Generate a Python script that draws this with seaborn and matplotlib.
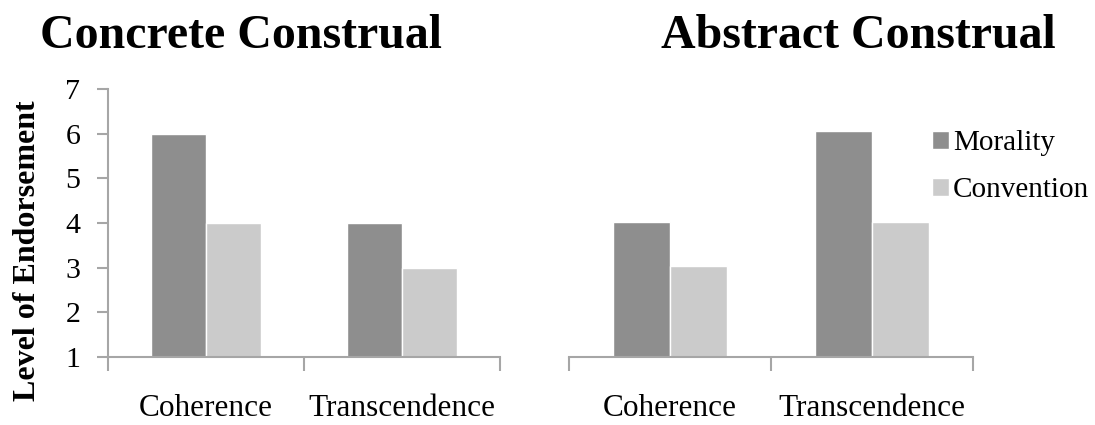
import matplotlib
matplotlib.use("Agg")
import matplotlib.pyplot as plt
import seaborn as sns
import pandas as pd

categories = ["Coherence", "Transcendence"]
series = ["Morality", "Convention"]
concrete_morality = [6.0, 4.0]
concrete_convention = [4.0, 3.0]
abstract_morality = [4.03, 6.06]
abstract_convention = [3.03, 4.03]
y_ticks = [1, 2, 3, 4, 5, 6, 7]

sns.set_theme(style="white")
plt.rcParams["font.family"] = ["Liberation Serif", "DejaVu Serif"]
plt.rcParams["text.color"] = "black"
plt.rcParams["xtick.labelcolor"] = "black"
plt.rcParams["ytick.labelcolor"] = "black"
plt.rcParams["axes.labelcolor"] = "black"

colors = {"Morality": "#8e8e8e", "Convention": "#cbcbcb"}
axis_color = "#a6a6a6"


def frame(morality, convention):
    rows = []
    for cat, m, c in zip(categories, morality, convention):
        rows.append({"category": cat, "series": "Morality", "value": m})
        rows.append({"category": cat, "series": "Convention", "value": c})
    return pd.DataFrame(rows)


fig = plt.figure(figsize=(10.95, 4.25), dpi=100)
ax1 = fig.add_axes([0.0986, 0.16, 0.358, 0.6306])
ax2 = fig.add_axes([0.5196, 0.16, 0.369, 0.6306])

panels = [
    (ax1, frame(concrete_morality, concrete_convention)),
    (ax2, frame(abstract_morality, abstract_convention)),
]

for ax, df in panels:
    sns.barplot(data=df, x="category", y="value", hue="series",
                order=categories, hue_order=series, palette=colors,
                width=0.565, saturation=1, ax=ax, legend=(ax is ax2))
    ax.set_ylim(1, 7)
    ax.set_xlim(-0.5, 1.5)
    ax.set_xlabel("")
    ax.set_ylabel("")
    for side in ["top", "right"]:
        ax.spines[side].set_visible(False)
    ax.spines["bottom"].set_color(axis_color)
    ax.spines["bottom"].set_linewidth(1.5)
    ax.set_xticks([-0.5, 0.5, 1.5])
    ax.set_xticklabels([])
    ax.set_xticks([0, 1], minor=True)
    ax.set_xticklabels(categories, minor=True, fontsize=22.5)
    ax.tick_params(axis="x", which="major", direction="out", length=10,
                   width=1.5, color=axis_color, bottom=True)
    ax.tick_params(axis="x", which="minor", length=0, pad=27, bottom=True)

fig.text(241 / 1095, 1 - 48 / 425, "Concrete Construal", fontsize=34.5,
         fontweight="bold", ha="center", va="baseline")
fig.text(858 / 1095, 1 - 48 / 425, "Abstract Construal", fontsize=34.5,
         fontweight="bold", ha="center", va="baseline")

ax1.spines["left"].set_color(axis_color)
ax1.spines["left"].set_linewidth(1.5)
ax1.set_yticks(y_ticks)
ax1.set_yticklabels([str(t) for t in y_ticks], fontsize=21.5)
ax1.tick_params(axis="y", direction="out", length=8, width=1.5,
                color=axis_color, left=True, pad=12)
fig.text(28 / 1095, 1 - 251 / 425, "Level of Endorsement", fontsize=23,
         fontweight="bold", rotation=90, ha="center", va="center")

ax2.spines["left"].set_visible(False)
ax2.set_yticks([])

leg = ax2.legend(loc="upper left", bbox_to_anchor=(0.898, 0.846), frameon=False,
                 fontsize=21, handlelength=0.58, handleheight=0.58,
                 handletextpad=0.14, labelspacing=0.72, borderpad=0,
                 borderaxespad=0)

fig.savefig("out.png", dpi=100)
